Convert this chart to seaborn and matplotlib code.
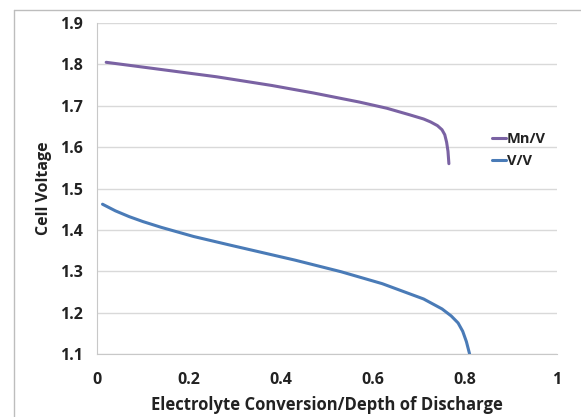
import matplotlib
matplotlib.use("Agg")
import matplotlib.pyplot as plt
import seaborn as sns
import pandas as pd
from matplotlib.lines import Line2D

# Data
mnv_x = [0.02, 0.13, 0.26, 0.38, 0.47, 0.57, 0.63, 0.68, 0.71, 0.725, 0.74, 0.75, 0.756, 0.76, 0.763, 0.765]
mnv_y = [1.805, 1.789, 1.770, 1.749, 1.731, 1.709, 1.694, 1.678, 1.668, 1.661, 1.652, 1.642, 1.630, 1.612, 1.59, 1.56]
vv_x = [0.012, 0.04, 0.07, 0.10, 0.14, 0.21, 0.29, 0.36, 0.43, 0.53, 0.62, 0.71, 0.75, 0.77, 0.785, 0.795, 0.803, 0.81]
vv_y = [1.462, 1.446, 1.432, 1.420, 1.406, 1.384, 1.363, 1.345, 1.327, 1.299, 1.270, 1.233, 1.209, 1.192, 1.175, 1.155, 1.13, 1.10]
series_names = ["Mn/V", "V/V"]
x_ticks = [0, 0.2, 0.4, 0.6, 0.8, 1]
x_tick_labels = ["0", "0.2", "0.4", "0.6", "0.8", "1"]
y_ticks = [1.1, 1.2, 1.3, 1.4, 1.5, 1.6, 1.7, 1.8, 1.9]
y_tick_labels = ["1.1", "1.2", "1.3", "1.4", "1.5", "1.6", "1.7", "1.8", "1.9"]
colors = {"Mn/V": "#7a62a3", "V/V": "#4a7bb7"}

df = pd.concat([
    pd.DataFrame({"x": mnv_x, "y": mnv_y, "series": series_names[0]}),
    pd.DataFrame({"x": vv_x, "y": vv_y, "series": series_names[1]}),
])

sns.set_style("white")
plt.rcParams["font.family"] = ["Open Sans", "DejaVu Sans"]

fig = plt.figure(figsize=(5.81, 4.17), dpi=100)
W, H = 581, 417
ax = fig.add_axes([97 / W, 1 - 354 / H, (557 - 97) / W, (354 - 23) / H])

for name in series_names:
    sub = df[df["series"] == name]
    sns.lineplot(x=sub["x"].values, y=sub["y"].values, ax=ax, color=colors[name],
                 linewidth=2.2, sort=False, estimator=None, legend=False)

ax.set_xlim(0, 1)
ax.set_ylim(1.1, 1.9)
ax.set_xticks(x_ticks)
ax.set_xticklabels(x_tick_labels)
ax.set_yticks(y_ticks)
ax.set_yticklabels(y_tick_labels)
for lbl in ax.get_xticklabels() + ax.get_yticklabels():
    lbl.set_fontweight("bold")
    lbl.set_fontsize(11.5)
    lbl.set_color("#222222")

ax.grid(axis="y", color="#d9d9d9", linewidth=1.0)
ax.set_axisbelow(True)
for s in ["top", "right"]:
    ax.spines[s].set_visible(False)
ax.spines["left"].set_color("#c8c8c8")
ax.spines["bottom"].set_color("#c8c8c8")
ax.tick_params(axis="both", which="both", direction="out", length=5, width=1,
               color="#c8c8c8", pad=5)
ax.tick_params(axis="x", pad=8)

ax.set_xlabel("Electrolyte Conversion/Depth of Discharge", fontsize=12,
              fontweight="bold", color="#222222", labelpad=6)
ax.set_ylabel("Cell Voltage", fontsize=11.5, fontweight="bold", color="#222222",
              labelpad=6)

handles = [Line2D([0], [0], color=colors[n], lw=2.2) for n in series_names]
leg = ax.legend(handles, series_names, loc="center left",
                bbox_to_anchor=((479 - 97) / (557 - 97), (354 - 150) / (354 - 23)),
                frameon=False, handlelength=0.95, handletextpad=0.05,
                labelspacing=0.55, prop={"weight": "bold", "size": 10.5})
for t in leg.get_texts():
    t.set_color("#222222")

# outer chart border (top and left visible)
fig.add_artist(Line2D([14 / W, 1], [1 - 10 / H, 1 - 10 / H], color="#bdbdbd", lw=1,
                      transform=fig.transFigure))
fig.add_artist(Line2D([14 / W, 14 / W], [0, 1 - 10 / H], color="#bdbdbd", lw=1,
                      transform=fig.transFigure))

fig.savefig("out.png", dpi=100)
